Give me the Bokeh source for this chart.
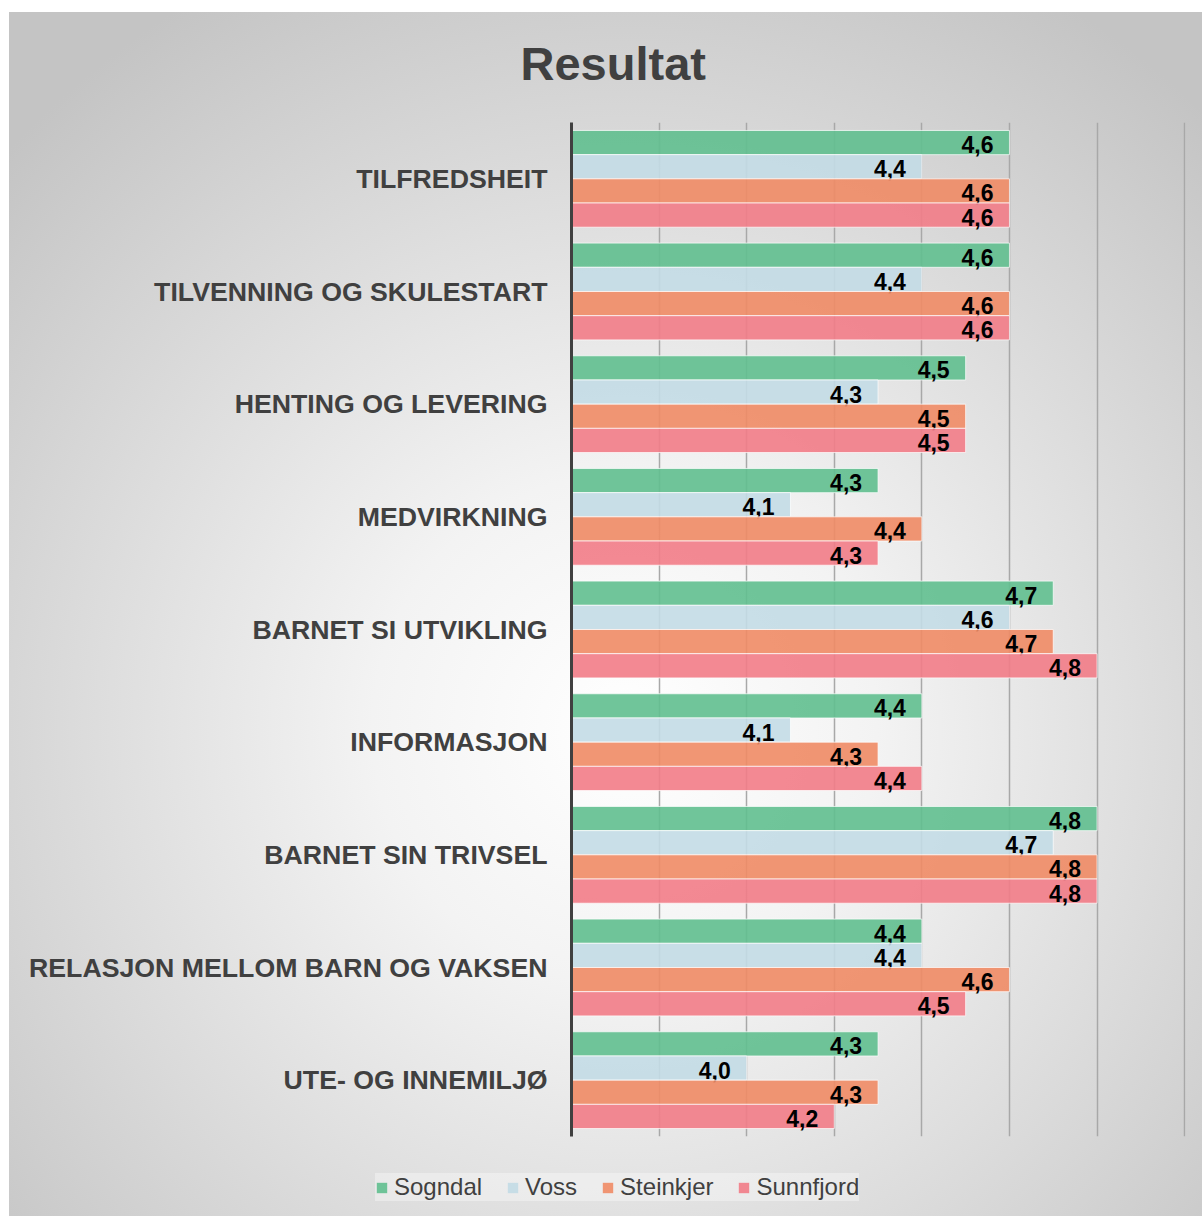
from bokeh.plotting import figure
from bokeh.layouts import column
from bokeh.models import ColumnDataSource, FactorRange, Legend, LegendItem, SingleIntervalTicker, Title
from bokeh.transform import dodge
from bokeh.core.properties import value
from bokeh.embed import file_html
from bokeh.resources import INLINE

# ---------------- data ----------------
categories = [
    "TILFREDSHEIT",
    "TILVENNING OG SKULESTART",
    "HENTING OG LEVERING",
    "MEDVIRKNING",
    "BARNET SI UTVIKLING",
    "INFORMASJON",
    "BARNET SIN TRIVSEL",
    "RELASJON MELLOM BARN OG VAKSEN",
    "UTE- OG INNEMILJØ",
]
series_names = ["Sogndal", "Voss", "Steinkjer", "Sunnfjord"]
sogndal = [4.6, 4.6, 4.5, 4.3, 4.7, 4.4, 4.8, 4.4, 4.3]
voss = [4.4, 4.4, 4.3, 4.1, 4.6, 4.1, 4.7, 4.4, 4.0]
steinkjer = [4.6, 4.6, 4.5, 4.4, 4.7, 4.3, 4.8, 4.6, 4.3]
sunnfjord = [4.6, 4.6, 4.5, 4.3, 4.8, 4.4, 4.8, 4.5, 4.2]
x_start, x_end, grid_step = 3.6, 5.0, 0.2
title_text = "Resultat"

# ---------------- style ----------------
colors = ["#61bf8f", "#c3dbe6", "#ef8b65", "#f27c87"]
FONT = "Liberation Sans"
TXT = "#404040"
bar_h = 0.2147
W = 1202
H_MAIN = 1150
H_LEG = 66

p = figure(
    width=W, height=H_MAIN,
    y_range=FactorRange(factors=categories[::-1]),
    x_range=(x_start, x_end + 0.002),
    output_backend="svg", toolbar_location=None,
    min_border_left=571, min_border_right=17,
    min_border_top=122, min_border_bottom=14,
)
p.frame_align = False
p.border_fill_color = None
p.background_fill_color = None
p.outline_line_color = None

p.title = Title(text=title_text, align="left", offset=-51, standoff=66,
                text_font_size="47px", text_font=FONT, text_font_style="bold",
                text_color=TXT)

# axes
p.xaxis.visible = False
p.xgrid.ticker = SingleIntervalTicker(interval=grid_step)
p.xgrid.grid_line_color = "#a8a8a8"
p.xgrid.grid_line_width = 1.5
p.ygrid.grid_line_color = None

p.yaxis.axis_line_color = TXT
p.yaxis.axis_line_width = 3
p.yaxis.major_tick_line_color = None
p.yaxis.minor_tick_line_color = None
p.yaxis.major_tick_out = 0
p.yaxis.major_tick_in = 0
p.yaxis.major_label_standoff = 24
p.yaxis.major_label_text_font = FONT
p.yaxis.major_label_text_font_style = "bold"
p.yaxis.major_label_text_font_size = "26.7px"
p.yaxis.major_label_text_color = TXT

# legend strip (own small figure so the legend can sit left of the bar area)
q = figure(width=W, height=H_LEG, x_range=(0, 1), y_range=(0, 1),
           output_backend="svg", toolbar_location=None,
           x_axis_location=None, y_axis_location=None,
           min_border=0, title=None)
q.frame_align = False
q.border_fill_color = None
q.background_fill_color = None
q.outline_line_color = None
q.xgrid.visible = False
q.ygrid.visible = False

all_vals = [sogndal, voss, steinkjer, sunnfjord]
offsets = [1.5, 0.5, -0.5, -1.5]
items = []
for name, vals, col, off in zip(series_names, all_vals, colors, offsets):
    src = ColumnDataSource(dict(
        cat=categories, val=vals,
        lab=[f"{v:.1f}".replace(".", ",") for v in vals],
    ))
    ydod = dodge("cat", off * bar_h, range=p.y_range)
    bar_style = dict(fill_color=col, fill_alpha=0.9,
                     line_color="#ffffff", line_alpha=0.7, line_width=1)
    p.hbar(y=ydod, left=x_start, right="val", height=bar_h, source=src, **bar_style)
    p.text(x="val", y=ydod, text="lab", source=src,
           text_align="right", text_baseline="middle",
           x_offset=-16, y_offset=2,
           text_font=value(FONT), text_font_style="bold",
           text_font_size="23px", text_color="#000000")
    # legend key: same series, drawn in the legend strip outside its visible range
    key = q.hbar(y="val", left=x_start, right="val", height=bar_h, source=src,
                 fill_color=col, fill_alpha=0.9, line_color=None)
    items.append(LegendItem(label=name, renderers=[key]))

legend = Legend(items=items, orientation="horizontal", location=(375, 15),
                glyph_width=13, glyph_height=13, label_standoff=6, spacing=24,
                padding=15, margin=0,
                label_text_font=FONT, label_text_font_size="24px",
                label_text_color=TXT,
                background_fill_color="#ffffff", background_fill_alpha=0.35,
                border_line_color=None)
q.add_layout(legend)

page = column(p, q, spacing=0)
page.styles = {
    "background": (
        "linear-gradient(#ffffff,#ffffff) top left/100% 12px no-repeat, "
        "linear-gradient(#ffffff,#ffffff) top left/9px 100% no-repeat, "
        "radial-gradient(ellipse 70% 70% at 52% 60%, #ffffff 0%, #f3f3f3 30%, #c4c4c4 100%)"
    )
}

open("out.html", "w").write(file_html(page, INLINE))
